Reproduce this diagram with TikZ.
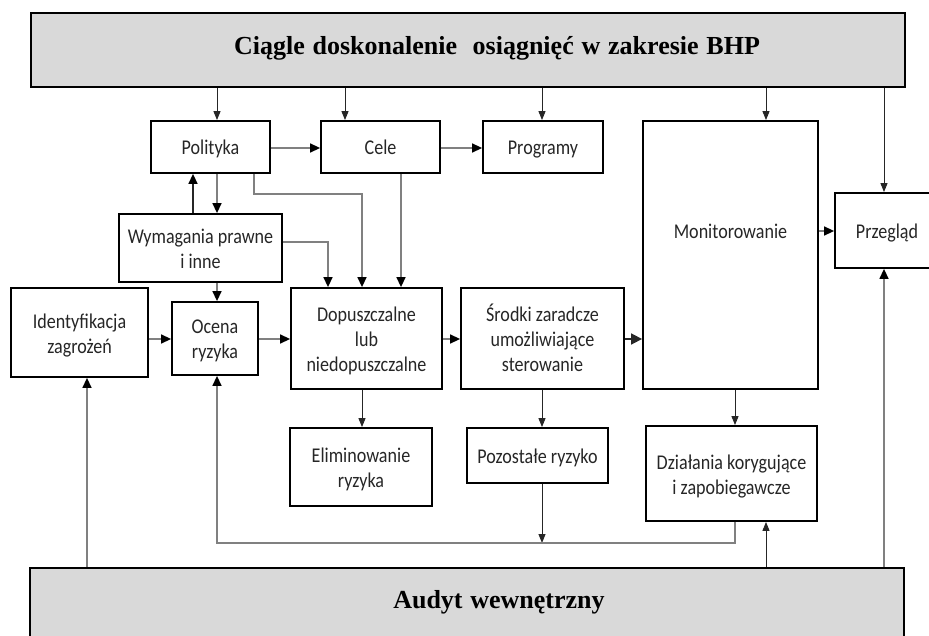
\documentclass[tikz,border=0pt]{standalone}
\usepackage{fontspec}
\usepackage{graphicx}
\setmainfont{Carlito}
\newfontfamily\hdrfont{Liberation Serif}[WordSpace={1.2}]
\usetikzlibrary{arrows.meta}
\definecolor{hdrgray}{HTML}{D9D9D9}
\definecolor{lngray}{HTML}{808080}
\newcommand\bt[1]{\raisebox{-3pt}[\height][\depth]{\scalebox{0.86}[1]{\begin{tabular}{@{}c@{}}#1\end{tabular}}}}
\begin{document}
\begin{tikzpicture}[x=1pt,y=-1pt,
  box/.style={draw, line width=1.8pt, rectangle, align=center, inner sep=0pt,
    font=\fontsize{21}{25}\selectfont, text=black!85},
  hdr/.style={draw, line width=2pt, fill=hdrgray, rectangle, inner sep=0pt},
  hdrtext/.style={font=\hdrfont\bfseries\fontsize{26}{30}\selectfont, inner sep=0pt},
  blk/.style={draw=black!85, line width=1pt, -{Triangle[length=9pt,width=7pt]}},
  con/.style={draw=lngray, line width=1.4pt, -{Triangle[length=10pt,width=9pt,color=black]}},
  fb/.style={draw=lngray, line width=1.4pt, -{Triangle[length=10pt,width=9pt,color=black]}},
]
\useasboundingbox (0,0) rectangle (929,636);
% header boxes
\node[hdr, minimum width=874pt, minimum height=74pt] (top) at (468,50) {};
\node[hdrtext] (toptxt) at (497,48) {Ciągle doskonalenie \ osiągnięć w zakresie BHP};
\node[hdr, minimum width=874pt, minimum height=74pt] (bot) at (467,605) {};
\node[hdrtext] (bottxt) at (499,602) {Audyt wewnętrzny};
% boxes
\node[box, minimum width=119pt, minimum height=52pt] (pol) at (210.5,147) {\bt{Polityka}};
\node[box, minimum width=119pt, minimum height=52pt] (cel) at (380.5,147) {\bt{Cele}};
\node[box, minimum width=120pt, minimum height=52pt] (prog) at (543,147) {\bt{Programy}};
\node[box, minimum width=175pt, minimum height=268pt] (mon) at (730.5,255) {};
\node[font=\fontsize{21}{25}\selectfont, text=black!85, inner sep=0pt] (montxt) at (730.5,231) {\bt{Monitorowanie}};
\node[box, minimum width=104pt, minimum height=75pt] (prz) at (887,230.5) {\bt{Przegląd}};
\node[box, minimum width=163pt, minimum height=68pt] (wym) at (200.5,248) {\bt{Wymagania prawne\\i inne}};
\node[box, minimum width=137pt, minimum height=89pt] (ide) at (79.5,332.5) {\bt{Identyfikacja\\zagrożeń}};
\node[box, minimum width=86pt, minimum height=73pt] (oce) at (215,338.5) {\bt{Ocena\\ryzyka}};
\node[box, minimum width=151pt, minimum height=101pt] (dop) at (366.5,338.5) {\bt{Dopuszczalne\\lub\\niedopuszczalne}};
\node[box, minimum width=163pt, minimum height=101pt] (sro) at (542.5,338.5) {\bt{Środki zaradcze\\umożliwiające\\sterowanie}};
\node[box, minimum width=142pt, minimum height=78pt] (eli) at (361,467) {\bt{Eliminowanie\\ryzyka}};
\node[box, minimum width=141pt, minimum height=55pt] (poz) at (537.5,455.5) {\bt{Pozostałe ryzyko}};
\node[box, minimum width=171pt, minimum height=95pt] (dzi) at (731.5,473.5) {\bt{Działania korygujące\\i zapobiegawcze}};
% helper coordinates
\coordinate (c87) at (87,0);
\coordinate (c193) at (193,0);
\coordinate (c217) at (217,0);
\coordinate (c254) at (254,0);
\coordinate (c328) at (328,0);
\coordinate (c345) at (345,0);
\coordinate (c362) at (362,0);
\coordinate (c401) at (401,0);
\coordinate (c542) at (542,0);
\coordinate (c735) at (735,0);
\coordinate (c766) at (766,0);
\coordinate (c884) at (884,0);
\coordinate (r148) at (0,148);
\coordinate (r194) at (0,194);
\coordinate (r231) at (0,231);
\coordinate (r242) at (0,242);
\coordinate (r339) at (0,339);
\coordinate (r543) at (0,543);
% top arrows
\draw[blk] (top.south -| c217) -- (pol.north -| c217);
\draw[blk] (top.south -| c345) -- (cel.north -| c345);
\draw[blk] (top.south -| c542) -- (prog.north -| c542);
\draw[blk] (top.south -| c766) -- (mon.north -| c766);
\draw[blk] (top.south -| c884) -- (prz.north -| c884);
% connectors
\draw[con] (pol.east |- r148) -- (cel.west |- r148);
\draw[con] (cel.east |- r148) -- (prog.west |- r148);
\draw[con] (pol.south -| c217) -- (wym.north -| c217);
\draw[con, draw=black!85] (wym.north -| c193) -- (pol.south -| c193);
\draw[con] (pol.south -| c254) |- (c362 |- r194) -- (dop.north -| c362);
\draw[con] (cel.south -| c401) -- (dop.north -| c401);
\draw[con] (wym.east |- r242) -| (dop.north -| c328);
\draw[con] (wym.south -| c217) -- (oce.north -| c217);
\draw[con] (ide.east |- r339) -- (oce.west |- r339);
\draw[con] (oce.east |- r339) -- (dop.west |- r339);
\draw[con] (dop.east |- r339) -- (sro.west |- r339);
\draw[draw=black!85, line width=1.6pt, -{Triangle[length=11pt,width=11pt]}] (sro.east |- r339) -- (mon.west |- r339);
\draw[con] (mon.east |- r231) -- (prz.west |- r231);
\draw[blk] (dop.south -| c362) -- (eli.north -| c362);
\draw[blk] (sro.south -| c542) -- (poz.north -| c542);
\draw[blk] (mon.south -| c735) -- (dzi.north -| c735);
\draw[blk] (poz.south -| c542) -- (c542 |- r543);
\draw[fb] (dzi.south -| c735) |- (c217 |- r543) -- (oce.south -| c217);
\draw[fb] (bot.north -| c87) -- (ide.south -| c87);
\draw[blk] (bot.north -| c766) -- (dzi.south -| c766);
\draw[fb] (bot.north -| c884) -- (prz.south -| c884);
\end{tikzpicture}
\end{document}
